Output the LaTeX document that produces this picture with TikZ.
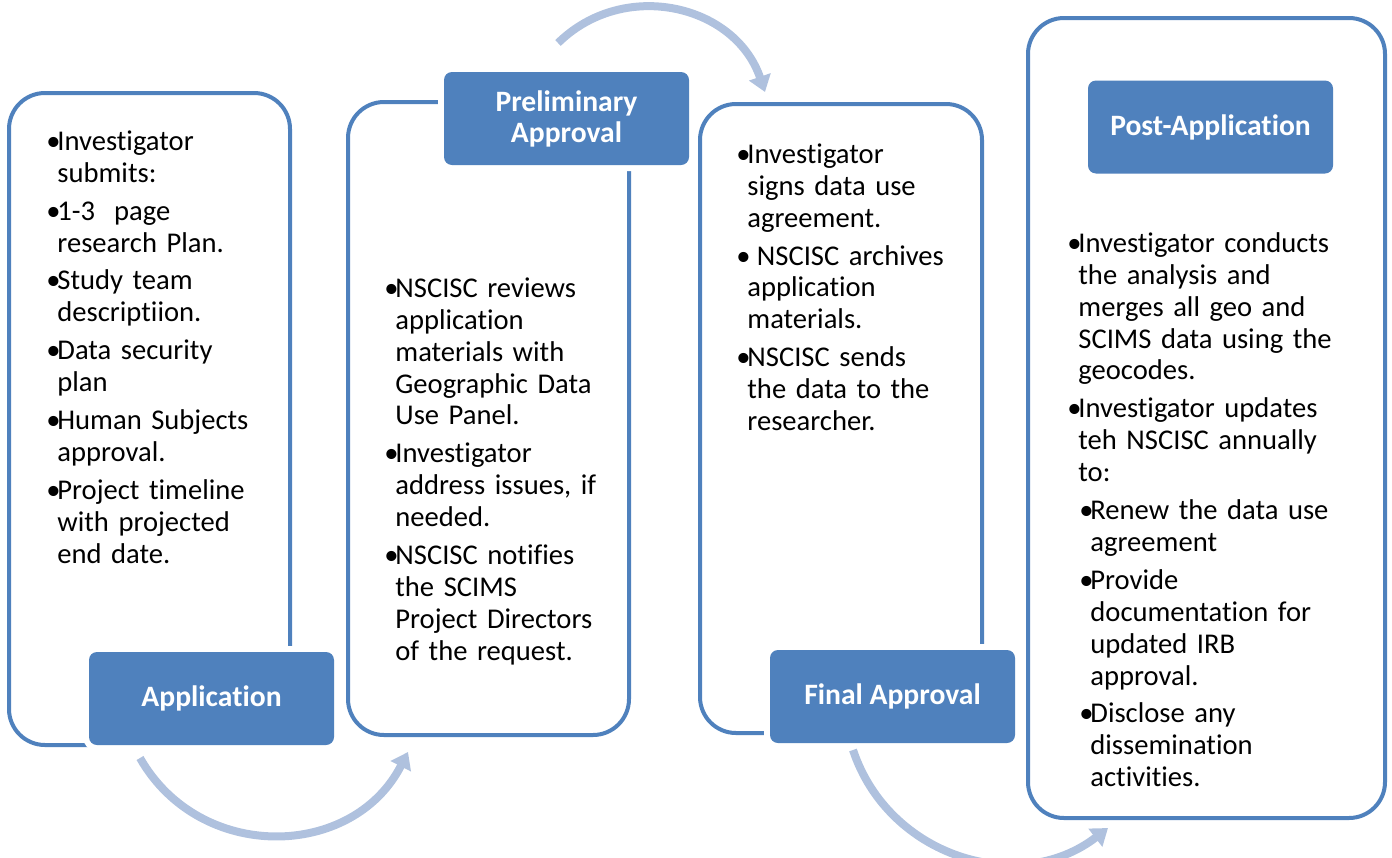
\documentclass[tikz,border=0pt]{standalone}
\usepackage{fontspec}
\setmainfont{Carlito}[Ligatures=NoCommon]
\usetikzlibrary{arrows.meta}
\definecolor{stepblue}{HTML}{4F81BD}
\definecolor{flowblue}{HTML}{AFC1DE}
\newcommand\bitem[1]{\par\hangindent=5.5pt\hangafter=1\noindent\makebox[5.5pt][l]{\textbullet}#1\par}
\newcommand\sitem[1]{\par\hangindent=11.5pt\hangafter=1\noindent\hspace*{6pt}\makebox[5.5pt][l]{\textbullet}#1\par}
\begin{document}
\begin{tikzpicture}[
  x=0.5pt, y=-0.5pt,
  panel/.style={draw=stepblue, line width=2pt, rounded corners=18pt, inner sep=0pt},
  stage/.style={fill=stepblue, preaction={draw=white, line width=6pt}, rounded corners=4pt,
    minimum width=122.5pt, minimum height=46.5pt, text=white, align=center,
    font=\bfseries\fontsize{14.8}{15.5}\selectfont},
  bullets/.style={anchor=north west, inner sep=0pt, text width=140pt, align=left,
    font=\fontsize{14.3}{15.95}\selectfont, execute at begin node={\setlength{\parskip}{3pt}}},
  flow/.style={draw=flowblue, line width=4pt, -{Triangle[width=11pt,length=8pt]}}
]
\useasboundingbox (0,0) rectangle (1392,857);

\node[panel, minimum width=140.5pt, minimum height=326pt] (p1) at (149.5,419) {};
\node[panel, minimum width=140.5pt, minimum height=316.5pt] (p2) at (488.5,418.5) {};
\node[panel, minimum width=141pt, minimum height=314.5pt] (p3) at (841,418.5) {};
\node[panel, minimum width=178.5pt, minimum height=400pt] (p4) at (1206.5,418) {};

\node[stage] (application) at (211.5,698.5) {Application};
\node[stage] (preliminary) at (566.5,118.5) {Preliminary\\Approval};
\node[stage] (final) at (892.5,696.5) {Final Approval};
\node[stage] (post) at (1210.5,127) {Post-Application};

\node[bullets] (t1) at (46,112) {%
\bitem{Investigator\newline submits:}
\bitem{1-3\ \ page\newline research Plan.}
\bitem{Study team\newline descriptiion.}
\bitem{Data security\newline plan}
\bitem{Human Subjects\newline approval.}
\bitem{Project timeline\newline with projected\newline end date.}};

\node[bullets] (t2) at (384,259) {%
\bitem{NSCISC reviews\newline application\newline materials with\newline Geographic Data\newline Use Panel.}
\bitem{Investigator\newline address issues, if\newline needed.}
\bitem{NSCISC notifies\newline the SCIMS\newline Project Directors\newline of the request.}};

\node[bullets] (t3) at (736,125) {%
\bitem{Investigator\newline signs data use\newline agreement.}
\bitem{\ NSCISC archives\newline application\newline materials.}
\bitem{NSCISC sends\newline the data to the\newline researcher.}};

\node[bullets] (t4) at (1067,214) {%
\bitem{Investigator conducts\newline the analysis and\newline merges all geo and\newline SCIMS data using the\newline geocodes.}
\bitem{Investigator updates\newline teh NSCISC annually\newline to:}
\sitem{Renew the data use\newline agreement}
\sitem{Provide\newline documentation for\newline updated IRB\newline approval.}
\sitem{Disclose any\newline dissemination\newline activities.}};

\coordinate (f1s) at (140,758);
\coordinate (f1e) at (408,752);
\coordinate (f2s) at (558,43);
\coordinate (f2e) at (765,92);
\coordinate (f3s) at (853,750);
\coordinate (f3e) at (1108,828);

\draw[flow] (f1s) .. controls +(59.8,105.1) and +(-55.1,107.7) .. (f1e);
\draw[flow] (f2s) .. controls +(66,-64.8) and +(-29.9,-87.5) .. (f2e);
\draw[flow] (f3s) .. controls +(35.5,106.8) and +(-89.2,68.7) .. (f3e);
\end{tikzpicture}
\end{document}
